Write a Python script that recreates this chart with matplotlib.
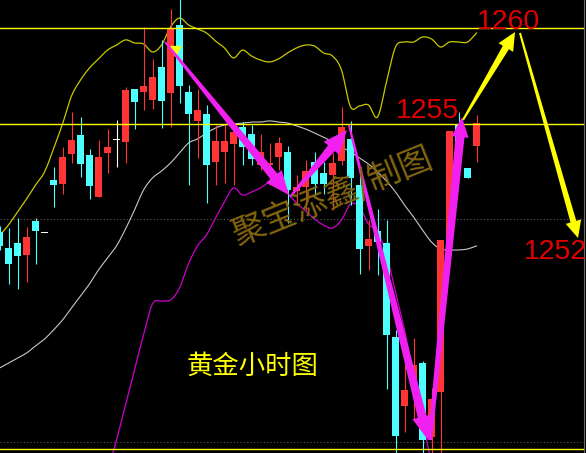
import numpy as np
import matplotlib
matplotlib.use("Agg")
import matplotlib.pyplot as plt
from matplotlib.patches import Polygon
from matplotlib.transforms import IdentityTransform

# gold 1h candles, bar index starts at -1 (cut off at the left edge)
first_bar = -1
opens = [1249.38, 1248.54, 1248.80, 1248.18, 1249.95, 1249.32, 1252.08, 1251.88, 1253.44, 1254.43,
         1253.39, 1251.20, 1253.49, 1254.17, 1254.06, 1256.82, 1256.67, 1256.25, 1257.97, 1256.61,
         1260.16, 1256.67, 1255.16, 1255.52, 1253.02, 1253.54, 1253.96, 1254.84, 1254.48, 1252.86,
         1252.86, 1253.28, 1253.54, 1251.51, 1251.72, 1253.02, 1252.45, 1252.34, 1253.07, 1254.22,
         1251.82, 1248.65, 1249.43, 1248.80, 1243.91, 1240.31, 1241.46, 1242.55, 1238.70, 1241.04,
         1248.96, 1254.95, 1252.71, 1253.85]
closes = [1248.65, 1247.71, 1248.13, 1249.11, 1249.43, 1249.32, 1251.82, 1253.28, 1254.17, 1252.92,
          1251.77, 1253.28, 1253.80, 1254.17, 1256.77, 1256.15, 1256.98, 1257.45, 1256.20, 1259.95,
          1256.98, 1255.52, 1255.73, 1252.86, 1254.11, 1254.11, 1254.58, 1253.80, 1253.18, 1253.54,
          1252.97, 1254.01, 1251.56, 1251.72, 1252.55, 1251.88, 1251.88, 1252.97, 1254.84, 1252.19,
          1248.49, 1249.01, 1248.85, 1244.01, 1238.75, 1241.15, 1242.45, 1238.54, 1240.68, 1248.96,
          1254.64, 1253.91, 1252.19, 1255.05]
highs = [1249.69, 1249.58, 1250.10, 1249.64, 1250.10, 1249.32, 1252.76, 1253.80, 1255.63, 1255.36,
         1253.70, 1254.17, 1254.74, 1255.21, 1256.93, 1256.82, 1260.05, 1258.39, 1259.38, 1260.99,
         1261.50, 1257.03, 1256.82, 1255.99, 1254.95, 1255.05, 1254.95, 1255.10, 1254.95, 1254.48,
         1254.01, 1254.32, 1253.85, 1252.34, 1253.13, 1253.54, 1253.02, 1253.49, 1255.89, 1255.16,
         1252.34, 1250.00, 1250.57, 1250.00, 1244.27, 1243.75, 1243.85, 1242.66, 1241.25, 1248.96,
         1254.64, 1255.63, 1252.71, 1255.47]
lows = [1248.44, 1246.67, 1246.41, 1246.77, 1247.71, 1249.32, 1250.68, 1251.35, 1252.97, 1252.24,
        1251.09, 1251.20, 1252.45, 1252.76, 1252.97, 1254.74, 1255.73, 1255.78, 1254.79, 1254.84,
        1256.09, 1251.82, 1253.23, 1250.89, 1251.82, 1251.93, 1251.82, 1252.86, 1252.86, 1252.60,
        1251.82, 1252.60, 1249.84, 1250.78, 1250.52, 1251.35, 1251.35, 1250.52, 1252.86, 1250.78,
        1247.19, 1247.40, 1247.14, 1241.20, 1237.50, 1238.96, 1239.64, 1237.50, 1237.50, 1237.50,
        1248.70, 1253.13, 1252.19, 1253.02]

# bollinger bands (upper / middle from bar -1, lower from bar 11)
upper_band = [1249.17, 1249.74, 1250.42, 1251.09, 1251.82, 1252.50, 1253.70, 1255.00, 1256.46, 1257.29,
              1257.92, 1258.39, 1258.85, 1259.11, 1259.38, 1259.22, 1259.17, 1258.75, 1259.11, 1260.05,
              1260.52, 1260.16, 1259.95, 1259.74, 1259.32, 1258.96, 1258.44, 1258.85, 1258.54, 1258.33,
              1258.23, 1258.39, 1258.70, 1258.96, 1259.11, 1259.06, 1258.70, 1258.54, 1257.81, 1255.89,
              1255.94, 1255.99, 1255.36, 1257.19, 1259.01, 1259.27, 1259.27, 1259.53, 1259.43, 1259.01,
              1259.27, 1259.27, 1259.27, 1259.74]
middle_band = [1242.29, 1242.55, 1242.81, 1243.07, 1243.44, 1243.80, 1244.27, 1244.79, 1245.42, 1246.04,
               1246.67, 1247.40, 1248.02, 1248.65, 1249.53, 1250.52, 1251.56, 1252.19, 1252.55, 1252.97,
               1253.49, 1254.01, 1254.22, 1254.53, 1254.79, 1254.95, 1255.00, 1255.05, 1255.10, 1255.10,
               1255.16, 1255.10, 1255.05, 1254.90, 1254.74, 1254.53, 1254.32, 1254.06, 1253.80, 1253.54,
               1253.23, 1252.92, 1252.50, 1252.03, 1251.46, 1250.78, 1250.16, 1249.48, 1248.85, 1248.49,
               1248.44, 1248.44, 1248.49, 1248.65]
lower_start = 11
lower_band = [1236.88, 1238.54, 1240.36, 1242.19, 1244.01, 1245.63, 1245.78, 1245.83, 1246.46, 1247.71,
              1248.65, 1249.22, 1250.10, 1250.94, 1251.67, 1251.30, 1251.46, 1251.67, 1251.98, 1252.08,
              1251.41, 1250.89, 1250.47, 1250.05, 1249.74, 1249.58, 1250.00, 1250.83, 1250.68, 1249.79,
              1249.38, 1248.18, 1246.25, 1244.27, 1241.93, 1239.58, 1237.40, 1235.94]

solid_levels = [1260.00, 1255.00, 1238.07]
dotted_levels = [1250.05, 1238.44]

# hand drawn arrows: (bar, price) tail -> tip
magenta_arrows = [((17.4, 1259.27), (31.17, 1251.30)),
                  ((31.28, 1251.20), (37.61, 1254.69)),
                  ((37.83, 1254.95), (46.61, 1238.54)),
                  ((46.83, 1238.54), (50.39, 1255.36))]
yellow_arrows = [((50.5, 1255.21), (56.28, 1259.79)),
                 ((56.83, 1259.74), (63.28, 1249.06))]

target_labels = ["1260", "1255", "1252"]
target_pos = [(55.6, 1260.31), (46.6, 1255.68), (60.72, 1248.33)]

plt.rcParams['font.family'] = ['Liberation Sans', 'Noto Sans CJK SC', 'DejaVu Sans']


def smooth(x, y, n=8):
    """catmull-rom through the points, just for drawing"""
    x = np.asarray(x, float)
    y = np.asarray(y, float)
    px = np.concatenate([[2 * x[0] - x[1]], x, [2 * x[-1] - x[-2]]])
    py = np.concatenate([[2 * y[0] - y[1]], y, [2 * y[-1] - y[-2]]])
    t = np.linspace(0, 1, n, endpoint=False)
    xs, ys = [], []
    for i in range(1, len(px) - 2):
        for p, out in ((px, xs), (py, ys)):
            p0, p1, p2, p3 = p[i - 1], p[i], p[i + 1], p[i + 2]
            out.extend(0.5 * (2 * p1 + (-p0 + p2) * t + (2 * p0 - 5 * p1 + 4 * p2 - p3) * t ** 2
                              + (-p0 + 3 * p1 - 3 * p2 + p3) * t ** 3))
    xs.append(x[-1])
    ys.append(y[-1])
    return xs, ys


def tapered_arrow(ax, tail, tip, w0, w1, hw, hl, color):
    p0 = ax.transData.transform(tail)
    p1 = ax.transData.transform(tip)
    d = p1 - p0
    u = d / np.hypot(*d)
    nrm = np.array([-u[1], u[0]])
    neck = p1 - u * hl
    pts = [p0 + nrm * w0 / 2, neck + nrm * w1 / 2, neck + nrm * hw / 2, p1,
           neck - nrm * hw / 2, neck - nrm * w1 / 2, p0 - nrm * w0 / 2]
    ax.add_patch(Polygon(pts, closed=True, transform=IdentityTransform(),
                         facecolor=color, edgecolor='none', zorder=6))


fig = plt.figure(figsize=(5.86, 4.53), dpi=100, facecolor='black')
ax = fig.add_axes([0, 0, 584 / 586, 1])
ax.set_facecolor('black')
ax.set_xlim(-8.5 / 9, (584 - 8.5) / 9)
ax.set_ylim(1261.458 - 453 / 19.2, 1261.458)
ax.set_xticks([])
ax.set_yticks([])
for s in ['top', 'left', 'bottom']:
    ax.spines[s].set_visible(False)
ax.spines['right'].set_color('#6a6a6a')

o = np.array(opens)
c = np.array(closes)
xs = np.arange(first_bar, first_bar + len(opens))
colors = np.where(c > o, '#ff3535', np.where(c < o, '#4dffff', '#ffffff'))

ax.vlines(xs, lows, highs, colors=colors, linewidth=0.8, zorder=2)
ax.bar(xs, np.maximum(np.abs(c - o), 0.07), bottom=np.minimum(o, c), width=0.78,
       color=colors, linewidth=0, zorder=3)

# bands
bx = np.arange(first_bar, first_bar + len(upper_band))
sx, sy = smooth(bx, upper_band)
ax.plot(sx, sy, color='#c8c800', lw=0.9, zorder=1)
sx, sy = smooth(bx, middle_band)
ax.plot(sx, sy, color='#c8c8c8', lw=0.8, zorder=1)
lx = np.arange(lower_start, lower_start + len(lower_band))
sx, sy = smooth(lx, lower_band)
ax.plot(sx, sy, color='#cc00cc', lw=0.9, zorder=1)

for lv in solid_levels:
    ax.axhline(lv, color='#ffff00', lw=1.0, zorder=4)
for lv in dotted_levels:
    ax.axhline(lv, color='#5a5a5a', lw=0.8, ls=(0, (1, 2)), zorder=0)

# fractal marker and top price tag
ax.plot([18.5], [1258.80], marker='v', color='#ffff00', markersize=7, zorder=5)
ax.text(14.7, 1261.62, "1261.16", color='#a0a0a0', fontsize=9, ha='center', va='center')

for tail, tip in magenta_arrows[:3]:
    tapered_arrow(ax, tail, tip, 2, 9, 20, 24, '#f020f0')
tapered_arrow(ax, magenta_arrows[3][0], magenta_arrows[3][1], 4, 9, 17, 20, '#f020f0')
tapered_arrow(ax, yellow_arrows[0][0], yellow_arrows[0][1], 2, 7, 17, 18, '#ffff00')
tapered_arrow(ax, yellow_arrows[1][0], yellow_arrows[1][1], 2, 6, 16, 17, '#ffff00')

for lab, (px, py) in zip(target_labels, target_pos):
    ax.text(px, py, lab, color='#e00000', fontsize=20.5, ha='center', va='center', zorder=7)

ax.text(27.06, 1242.40, "黄金小时图", color='#ffff00', fontsize=19, ha='center', va='center',
        family=['Noto Sans CJK SC', 'DejaVu Sans'], zorder=7)
ax.text(36.06, 1251.20, "聚宝添鑫/制图", color='#85660f', fontsize=24, ha='center', va='center',
        rotation=22, rotation_mode='anchor', family=['Noto Sans CJK SC', 'DejaVu Sans'], zorder=7)

fig.savefig("out.png", dpi=100, facecolor='black')
